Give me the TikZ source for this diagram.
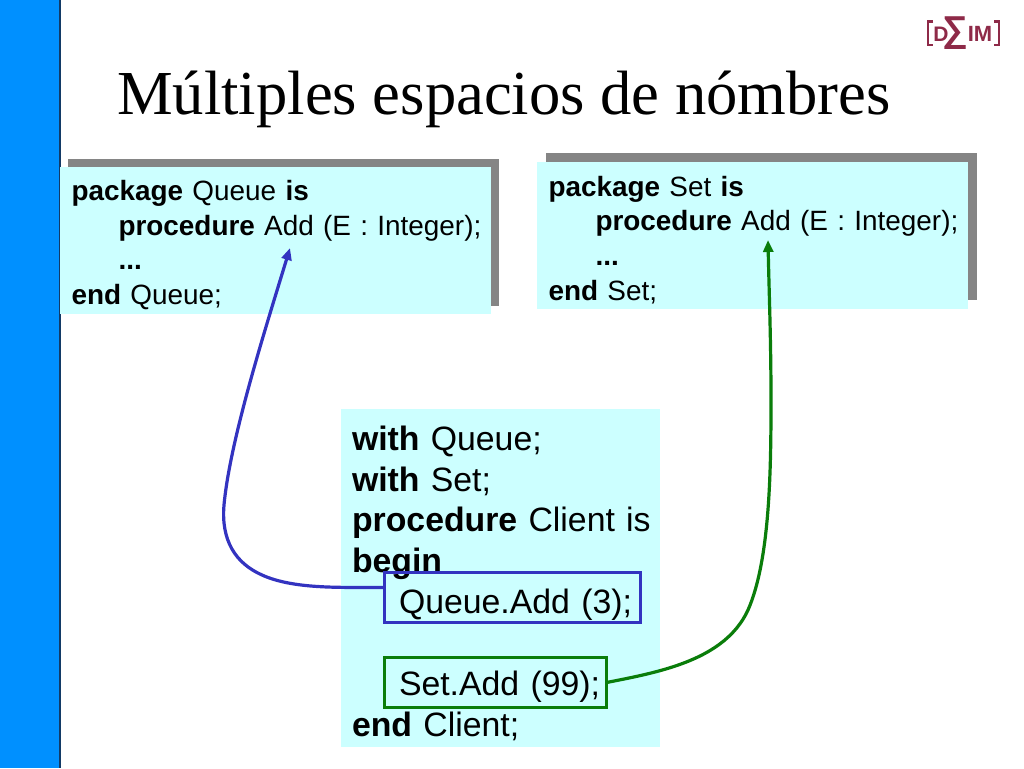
\documentclass[tikz,border=0pt]{standalone}
\usepackage{fontspec}
\setmainfont{Liberation Sans}
\newfontfamily\titlefont{Liberation Serif}
\usetikzlibrary{arrows.meta}
\definecolor{panel}{HTML}{CCFFFF}
\definecolor{shadowgray}{HTML}{858585}
\definecolor{side}{HTML}{0090FF}
\definecolor{sideline}{HTML}{123A66}
\definecolor{linkblue}{HTML}{3333C0}
\definecolor{linkgreen}{HTML}{0A7D0A}
\definecolor{logored}{HTML}{8E2A48}
\tikzset{
  x=1pt,y=-1pt,
  shadowbox/.style={fill=shadowgray,draw=none,anchor=north west,inner sep=0pt,outer sep=0pt,minimum width=431pt,minimum height=147pt},
  pkgbox/.style={fill=panel,draw=none,anchor=north west,inner sep=0pt,outer sep=0pt,minimum width=431pt,minimum height=147pt,
    text width=425pt,align=left,font=\fontsize{27.9}{34.7}\selectfont,text=black},
  clientbox/.style={fill=panel,draw=none,anchor=north west,inner sep=0pt,outer sep=0pt,minimum width=319pt,minimum height=338pt,
    text width=314pt,align=left,font=\fontsize{33.8}{40.9}\selectfont,text=black},
  mark rect/.style={draw=#1,line width=3pt,fill=none,anchor=north west,inner sep=0pt,outer sep=0pt},
  link/.style={draw=#1,line width=3.2pt,-{Triangle[length=12pt,width=10pt]}},
  logotext/.style={text=logored,inner sep=0pt,font=\bfseries},
}
\newcommand{\mg}{\hspace*{8.5pt}}
\newcommand{\ind}{\hspace*{55.5pt}}
\begin{document}
\begin{tikzpicture}
\useasboundingbox (0,0) rectangle (1024,768);
\fill[white] (0,0) rectangle (1024,768);
\fill[side] (0,0) rectangle (59,768);
\fill[sideline] (59,0) rectangle (60.5,768);

\node[anchor=base west,inner sep=0pt,font=\titlefont\fontsize{62.6}{66}\selectfont,text=black] (title) at (117,114) {Múltiples espacios de nómbres};

\node[shadowbox] (qs) at (68,159) {};
\node[pkgbox] (q) at (60,167) {\rule{0pt}{29pt}\mg\textbf{package} Queue \textbf{is}\\
\ind\textbf{procedure} Add (E : Integer);\\
\ind\textbf{...}\\
\mg\textbf{end} Queue;};

\node[shadowbox] (ss) at (546,153) {};
\node[pkgbox] (s) at (537,162) {\rule{0pt}{29pt}\mg\textbf{package} Set \textbf{is}\\
\ind\textbf{procedure} Add (E : Integer);\\
\ind\textbf{...}\\
\mg\textbf{end} Set;};

\node[clientbox] (c) at (341,409) {\rule{0pt}{35pt}\mg\textbf{with} Queue;\\
\mg\textbf{with} Set;\\
\mg\textbf{procedure} Client is\\
\mg\textbf{begin}\\
\ind Queue.Add (3);\\
\mbox{}\\
\ind Set.Add (99);\\
\mg\textbf{end} Client;};

\node[mark rect=linkblue,minimum width=256pt,minimum height=50pt] (qa) at (384.5,572.5) {};
\node[mark rect=linkgreen,minimum width=222pt,minimum height=50pt] (sa) at (384.5,657.5) {};

\coordinate (qt) at (290,248);
\coordinate (st) at (768,240);
\draw[link=linkblue] ([yshift=10pt]qa.west) .. controls (345,587) and (295,590) .. (262,575)
  .. controls (235,563) and (221,540) .. (224,505)
  .. controls (230,440) and (265,330) .. (qt);
\draw[link=linkgreen] (sa.east) .. controls (660,672) and (725,660) .. (748,610)
  .. controls (770,560) and (771,470) .. (771,400)
  .. controls (771,340) and (769,290) .. (st);

% logo
\node[logotext,font=\bfseries\fontsize{21}{21}\selectfont] (lg1) at (941,34) {D};
\node[logotext,font=\bfseries\fontsize{22}{22}\selectfont] (lg3) at (980,34) {IM};
\node[logotext,font=\bfseries\fontsize{36}{36}\selectfont] (lg2) at (955,33) {\char"2211};
\draw[logored,line width=2.5pt] (933,21.5) -- (928,21.5) -- (928,45) -- (933,45);
\draw[logored,line width=2.5pt] (994,21.5) -- (999,21.5) -- (999,45) -- (994,45);
\end{tikzpicture}
\end{document}
